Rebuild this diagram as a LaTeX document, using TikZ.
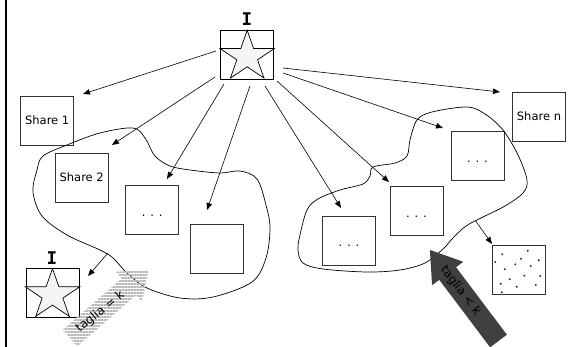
\documentclass[tikz,border=0pt]{standalone}
\usepackage{fontspec}
\setmainfont{DejaVu Sans}
\newfontfamily\monobold{DejaVu Sans Mono Bold}
\usetikzlibrary{arrows.meta,patterns.meta}

\begin{document}
\begin{tikzpicture}[x=1pt,y=-1pt,
  box/.style={draw=black!80, line width=0.9pt, minimum width=53pt,
    minimum height=49pt, inner sep=0pt, font=\fontsize{11.5}{12}\selectfont},
  starframe/.style={draw=black, line width=0.9pt, minimum width=53pt,
    minimum height=49pt, inner sep=0pt},
  dotted box/.style={box, text height=13pt, text depth=0pt},
  link/.style={-{Triangle[length=7pt,width=5.5pt]}, line width=0.6pt},
  blob/.style={line width=0.7pt, smooth cycle, tension=0.55},
  starpath/.style={fill=black!4, draw=black, line width=0.7pt},
  biglabel/.style={font=\monobold\fontsize{17.5}{18}\selectfont, inner sep=0pt},
  cutlabel/.style={font=\fontsize{12}{12}\selectfont, inner sep=0pt}
]
\useasboundingbox (0,0) rectangle (579,347);

% left margin rule
\draw[line width=2.2pt] (6,0) -- (6,347);

% boxes
\node[starframe] (top) at (247.2,54.7) {};
\node[biglabel] (topI) at (247,19) {I};
\node[box] (s1) at (47.2,120.7) {Share 1};
\node[box] (sn) at (539,116.5) {Share n};
\node[box] (s2) at (81.7,177.7) {Share 2};
\node[dotted box] (dl) at (152.2,209.8) {. . .};
\node[box] (empty) at (217.4,248.5) {};
\node[dotted box] (drt) at (477.5,155.7) {. . .};
\node[dotted box] (drm) at (416.5,210.8) {. . .};
\node[dotted box] (drl) at (349,240.5) {. . .};
\node[box] (noise) at (518.7,270.2) {};
\node[starframe] (bot) at (52.5,293) {};
\node[biglabel] (botI) at (52,258.3) {I};

% stars inside the two frames
\foreach \n in {top,bot}{
  \begin{scope}[shift={(\n.center)}, shift={(0,2)}, xscale=1.08]
    \draw[starpath] (-90:26.4) -- (-54:10.1) -- (-18:26.4) -- (18:10.1)
      -- (54:26.4) -- (90:10.1) -- (126:26.4) -- (162:10.1)
      -- (198:26.4) -- (234:10.1) -- cycle;
  \end{scope}
}

% scattered points
\foreach \p in {(502.3,254.3),(527.7,250.7),(495.3,262),(521,258.7),
  (538.7,260.3),(515.3,264.3),(504.7,269.3),(530.7,266),(524.3,275.7),
  (540.3,276),(509.7,279.3),(500.7,283.7),(516.7,286.7),(535.7,285),
  (501.7,292.3)}
  \fill[black!80] \p circle (1.1pt);

% the two groups
\draw[blob] plot coordinates {(43,156) (67,145) (100,133) (133,128)
  (145,138) (155,156) (170,166) (190,170) (220,173) (240,171) (257,179)
  (266,205) (270,228) (266,258) (252,282) (213,297) (180,298) (147,288)
  (127,273) (113,258) (100,250) (67,235) (42,216) (33,192) (37,170)};
\draw[blob] plot coordinates {(467,107) (485,114) (503,130) (518,155)
  (527,180) (523,193) (505,206) (483,217) (466,226) (453,238) (443,249)
  (425,263) (400,270) (367,272) (323,269) (303,263) (298,250) (300,235)
  (307,210) (318,199) (340,190) (363,184) (370,176) (373,167) (395,163)
  (407,156) (410,140) (417,120) (432,112)};

% connector end points
\coordinate (a1) at (216,51);  \coordinate (b1) at (83,94);
\coordinate (a2) at (215,77);  \coordinate (b2) at (112,145);
\coordinate (a3) at (224,84);  \coordinate (b3) at (167,179);
\coordinate (a4) at (250,86);  \coordinate (b4) at (207,210);
\coordinate (a5) at (265,86);  \coordinate (b5) at (341,208);
\coordinate (a6) at (277,81);  \coordinate (b6) at (389,182);
\coordinate (a7) at (283,73);  \coordinate (b7) at (443,128);
\coordinate (a8) at (283,68);  \coordinate (b8) at (500,92);
\coordinate (a9) at (108,253); \coordinate (b9) at (88,276);
\coordinate (a10) at (475,220); \coordinate (b10) at (492,244);
\foreach \i in {1,...,10}
  \draw[link] (a\i) -- (b\i);

% striped arrow
\begin{scope}[shift={(70,338)}, rotate=41]
  \path[pattern={Lines[angle=0,distance=3pt,line width=2pt]},
    pattern color=black!28]
    (0,-11) -- (78,-11) -- (78,-20) -- (104,0) -- (78,20) -- (78,11)
    -- (0,11) -- cycle;
  \coordinate (eqc) at (40,0);
\end{scope}
\node[cutlabel, rotate=39] (eq) at (eqc) {taglia = k};

% dark arrow
\begin{scope}[shift={(498.5,341)}, rotate=127]
  \fill[black!75] (0,-10.5) -- (84.5,-10.5) -- (84.5,-19.5) -- (114,0)
    -- (84.5,19.5) -- (84.5,10.5) -- (0,10.5) -- cycle;
  \coordinate (ltc) at (63,0);
\end{scope}
\node[cutlabel, rotate=-53] (lt) at (ltc) {taglia < k};
\end{tikzpicture}
\end{document}
